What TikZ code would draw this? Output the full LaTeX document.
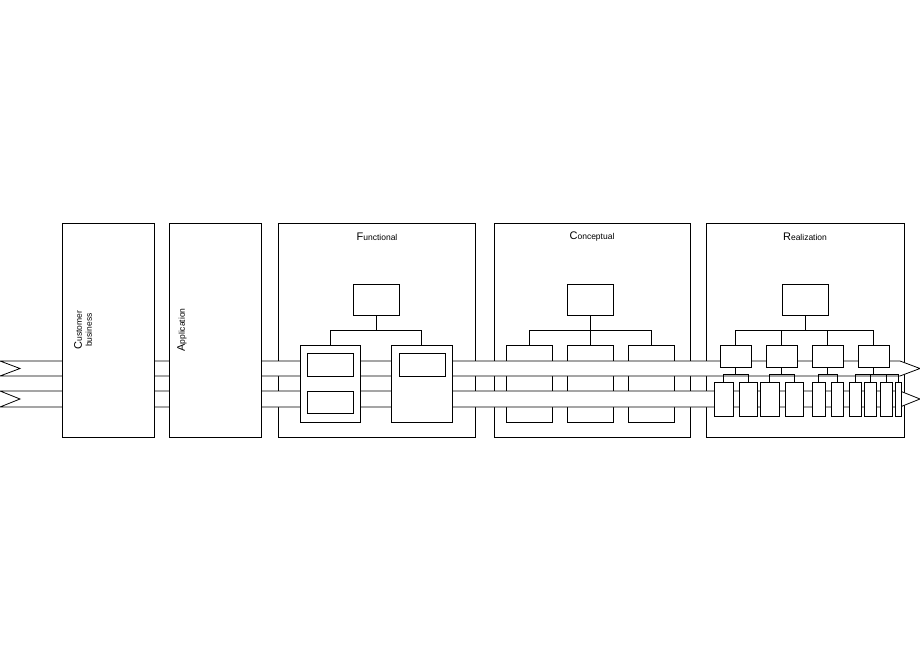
\documentclass[tikz,border=0pt]{standalone}
\usepackage{fontspec}
\setmainfont{Liberation Sans}
\usetikzlibrary{positioning}

\tikzset{
  blk/.style={draw, fill=white, rectangle, inner sep=0pt, line width=0.8pt},
  frame/.style={blk, anchor=north west},
  band/.style={draw, fill=white, line width=0.8pt},
  wire/.style={line width=0.8pt},
  title/.style={font=\fontsize{8.5}{10}\selectfont},
}
\newcommand{\initcap}[2]{{\fontsize{11}{10}\selectfont #1}#2}

\begin{document}
\begin{tikzpicture}[x=1pt, y=-1pt]
    \useasboundingbox (0,0) rectangle (920,660);

    % big frames
    \node[frame, minimum width=197pt, minimum height=214pt] (fun) at (278,223) {};
    \node[frame, minimum width=196pt, minimum height=214pt] (con) at (494,223) {};
    \node[frame, minimum width=198pt, minimum height=214pt] (rea) at (706,223) {};
    \node[title] at (377,237) {\initcap{F}{unctional}};
    \node[title] at (592,237) {\initcap{C}{onceptual}};
    \node[title] at (805,237) {\initcap{R}{ealization}};

    % conceptual
    \node[blk, minimum width=46pt, minimum height=31pt] (ct) at (590,299.5) {};
    \foreach \n/\x in {c1/529, c2/590, c3/651}
        \node[blk, minimum width=46pt, minimum height=77pt] (\n) at (\x,383.5) {};
    \draw[wire] (ct.south) -- ++(0,15) -| (c1.north);
    \draw[wire] (ct.south) -- ++(0,15) -| (c3.north);
    \draw[wire] (ct.south) -- (c2.north);

    % bands
    \draw[band] (0,361) -- (20,368.5) -- (0,376) -- (900,376) -- (920,368.5) -- (900,361) -- cycle;
    \draw[band] (0,391) -- (20,399) -- (0,407) -- (900,407) -- (920,399) -- (900,391) -- cycle;

    % functional
    \node[blk, minimum width=46pt, minimum height=31pt] (ft) at (376,299.5) {};
    \node[blk, minimum width=60pt, minimum height=77pt] (f1) at (330,383.5) {};
    \node[blk, minimum width=61pt, minimum height=77pt] (f2) at (421.5,383.5) {};
    \node[blk, minimum width=46pt, minimum height=23pt] (f1a) at (330,364.5) {};
    \node[blk, minimum width=46pt, minimum height=22pt] (f1b) at (330,402) {};
    \node[blk, minimum width=46pt, minimum height=23pt] (f2a) at (422,364.5) {};
    \draw[wire] (ft.south) -- ++(0,15) -| (f1.north);
    \draw[wire] (ft.south) -- ++(0,15) -| (f2.north);

    % realization
    \node[blk, minimum width=46pt, minimum height=31pt] (rt) at (805,299.5) {};
    \foreach \n/\x in {r1/735.5, r2/781.5, r3/827.5, r4/873.5} {
        \node[blk, minimum width=31pt, minimum height=22pt] (\n) at (\x,356.5) {};
        \draw[wire] (rt.south) -- ++(0,15) -| (\n.north);
    }
    \foreach \n/\x/\w/\p in {s1/723.5/19/r1, s2/748/18/r1, s3/769.5/19/r2, s4/794/18/r2,
                             s5/818.5/13/r3, s6/837/12/r3, s7/855/12/r4, s8/870/12/r4,
                             s9/886/12/r4, s10/898/6/r4} {
        \node[blk, minimum width=\w pt, minimum height=34pt] (\n) at (\x,399) {};
        \draw[wire] (\p.south) -- ++(0,6) -| (\n.north);
    }

    % left blocks
    \node[frame, minimum width=92pt, minimum height=214pt] (cus) at (62,223) {};
    \node[frame, minimum width=92pt, minimum height=214pt] (app) at (169,223) {};
    \node[title, rotate=90, align=center] at (83,330) {\initcap{C}{ustomer}\\business};
    \node[title, rotate=90] at (182,330) {\initcap{A}{pplication}};
\end{tikzpicture}
\end{document}
